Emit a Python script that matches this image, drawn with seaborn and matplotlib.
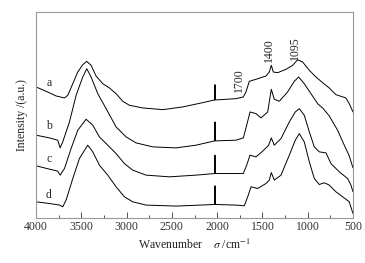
import numpy as np
import pandas as pd
import matplotlib
matplotlib.use("Agg")
import matplotlib.pyplot as plt
from matplotlib.ticker import MultipleLocator
import seaborn as sns

# wavenumber (cm-1) and intensity (a.u., curves offset)
wn_a = [4000, 3890, 3779, 3687, 3650, 3595, 3540, 3485, 3441, 3393, 3338, 3264,
        3190, 3117, 3043, 2970, 2822, 2602, 2381, 2160, 2028, 2024, 2020, 1792,
        1711, 1682, 1645, 1571, 1461, 1424, 1402, 1380, 1332, 1240, 1166, 1111,
        1056, 982, 909, 835, 762, 688, 578, 541, 500]
int_a = [131.0, 126.7, 122.0, 120.0, 122.7, 134.3, 146.0, 153.3, 156.7, 152.7,
         142.0, 134.3, 130.0, 124.3, 116.7, 112.7, 110.0, 108.3, 111.0, 115.3,
         118.0, 133.3, 118.0, 119.3, 121.0, 126.0, 136.7, 138.7, 142.0, 146.0,
         152.7, 146.0, 145.3, 148.7, 152.7, 158.3, 156.0, 147.7, 141.0, 135.3,
         130.0, 123.3, 120.0, 114.3, 106.0]

wn_b = [4000, 3853, 3761, 3735, 3706, 3632, 3558, 3485, 3441, 3393, 3319, 3227,
        3117, 3006, 2896, 2712, 2454, 2234, 2028, 2024, 2020, 1792, 1711, 1674,
        1637, 1571, 1516, 1442, 1402, 1369, 1314, 1222, 1148, 1100, 1038, 964,
        890, 828, 762, 670, 596, 541, 500]
int_b = [82.7, 80.0, 77.7, 70.0, 76.0, 96.0, 122.7, 141.0, 149.3, 141.0, 124.3,
         109.3, 91.0, 81.0, 75.0, 71.0, 70.0, 72.7, 77.0, 96.0, 77.0, 77.7,
         80.0, 92.7, 106.0, 104.3, 100.0, 106.0, 128.7, 118.7, 116.7, 126.0,
         136.7, 141.0, 134.3, 124.3, 114.3, 109.3, 102.0, 87.7, 72.7, 62.0,
         50.0]

wn_c = [4000, 3853, 3761, 3735, 3687, 3614, 3540, 3448, 3374, 3301, 3209, 3117,
        3025, 2933, 2786, 2528, 2234, 2028, 2024, 2020, 1792, 1711, 1674, 1637,
        1571, 1498, 1431, 1402, 1369, 1295, 1203, 1137, 1093, 1038, 982, 927,
        872, 798, 743, 651, 559, 522, 500]
int_c = [52.0, 48.7, 46.7, 42.7, 49.3, 69.3, 87.7, 98.7, 92.7, 81.0, 72.7,
         64.3, 54.3, 47.7, 42.7, 41.0, 42.7, 44.3, 62.7, 44.3, 44.3, 44.3,
         52.7, 62.7, 61.0, 66.7, 72.7, 80.0, 72.7, 79.3, 96.0, 106.0, 109.3,
         102.7, 86.0, 71.0, 66.0, 65.0, 54.3, 46.0, 39.3, 32.7, 26.0]

wn_d = [4000, 3853, 3742, 3706, 3669, 3595, 3522, 3430, 3374, 3301, 3209, 3117,
        3025, 2933, 2786, 2454, 2028, 2024, 2020, 1792, 1700, 1663, 1626, 1553,
        1461, 1424, 1402, 1369, 1295, 1203, 1137, 1093, 1038, 982, 927, 872,
        820, 798, 762, 688, 614, 541, 500]
int_d = [16.0, 14.3, 12.7, 11.0, 17.7, 39.3, 59.3, 72.7, 66.0, 52.7, 42.7,
         31.0, 21.0, 16.0, 12.7, 11.7, 13.3, 32.0, 13.3, 12.7, 12.0, 21.0,
         31.0, 29.3, 34.3, 37.7, 45.3, 37.7, 42.7, 62.7, 77.7, 84.3, 76.0,
         56.0, 39.3, 33.3, 35.0, 34.3, 32.7, 26.0, 21.0, 16.0, 4.3]

curve_names = ["a", "b", "c", "d"]
name_y = [129, 86, 53, 17]
peak_labels = ["1700", "1400", "1095"]
peak_x = [1755, 1424, 1137]
peak_y = [126, 156, 158]

frames = []
for name, wn, inten in zip(curve_names, [wn_a, wn_b, wn_c, wn_d],
                           [int_a, int_b, int_c, int_d]):
    frames.append(pd.DataFrame({"wn": wn, "intensity": inten, "sample": name}))
df = pd.concat(frames, ignore_index=True)

sns.set_style("white")
plt.rcParams["font.family"] = ["Liberation Serif", "DejaVu Serif"]
plt.rcParams["mathtext.fontset"] = "stix"

fig, ax = plt.subplots(figsize=(3.65, 2.63), dpi=100)
fig.subplots_adjust(left=0.099, right=0.967, top=0.954, bottom=0.172)

sns.lineplot(data=df, x="wn", y="intensity", units="sample", estimator=None,
             sort=False, color="black", linewidth=0.7, ax=ax)

ax.set_xlim(4000, 500)
ax.set_ylim(0, 206)
ax.xaxis.set_major_locator(MultipleLocator(500))
ax.xaxis.set_minor_locator(MultipleLocator(250))
ax.tick_params(axis="x", which="both", direction="in", bottom=True,
               labelsize=8.5, pad=2, colors="#333333")
ax.tick_params(axis="x", which="major", length=4, width=0.6)
ax.tick_params(axis="x", which="minor", length=2, width=0.6)
ax.set_yticks([])
for sp in ax.spines.values():
    sp.set_color("#999999")
    sp.set_linewidth(0.8)

ax.set_xlabel(r"Wavenumber    $\sigma$ /cm$^{-1}$", fontsize=8.5, labelpad=4,
              color="#222222")
ax.set_ylabel("Intensity /(a.u.)", fontsize=8.5, labelpad=6, color="#222222")

for name, y in zip(curve_names, name_y):
    ax.text(3860, y, name, fontsize=8.5, ha="center", va="bottom")
for lab, x, y in zip(peak_labels, peak_x, peak_y):
    ax.text(x, y, lab, fontsize=8.5, rotation=90, ha="center", va="bottom")

fig.savefig("out.png", dpi=100)
